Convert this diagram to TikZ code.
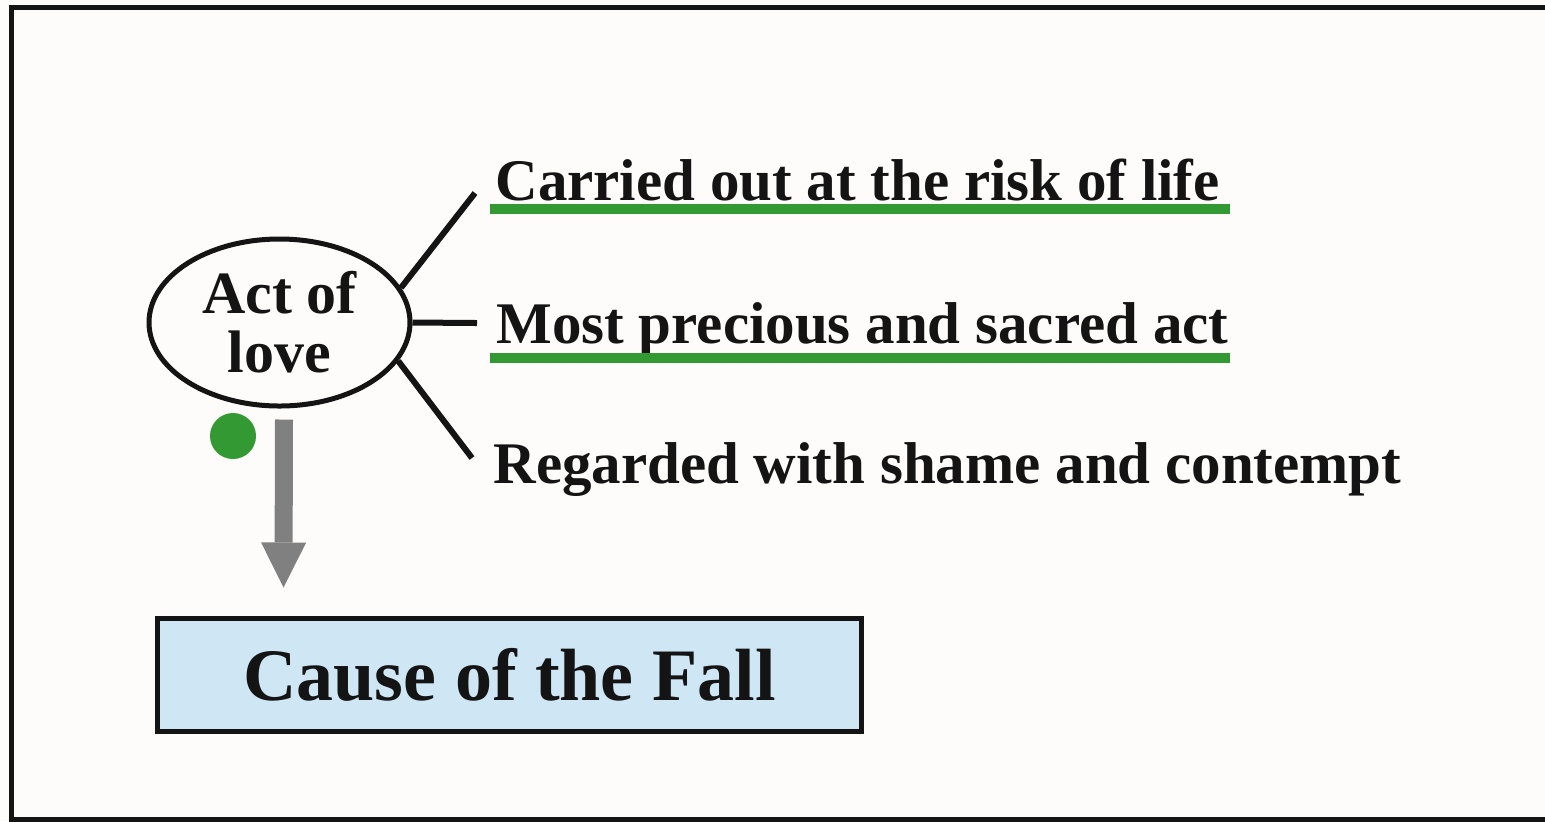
\documentclass[tikz,border=0pt]{standalone}
\usepackage{fontspec}
\setmainfont{Liberation Serif}
\usepackage{tikz}
\usetikzlibrary{arrows.meta,shapes}

\definecolor{leafgreen}{RGB}{51,153,51}
\definecolor{boxblue}{RGB}{207,230,245}
\definecolor{arrowgray}{RGB}{128,128,128}
\definecolor{inkblack}{RGB}{20,20,20}
\definecolor{paper}{RGB}{253,252,251}

\begin{document}
\begin{tikzpicture}[x=0.5pt,y=-0.5pt,
		love node/.style={ellipse,draw=inkblack,line width=2.5pt,minimum width=130.5pt,minimum height=83.5pt,inner sep=0pt,align=center,text=inkblack,font=\fontsize{30}{29.5}\selectfont\bfseries},
		item node/.style={anchor=base west,inner sep=0pt,text=inkblack,font=\fontsize{29.5}{35}\selectfont\bfseries},
		fall node/.style={rectangle,draw=inkblack,fill=boxblue,line width=2.5pt,minimum width=352pt,minimum height=56.5pt,text=inkblack,font=\fontsize{37}{44}\selectfont\bfseries},
		branch/.style={draw=inkblack,line width=3pt},
		mark line/.style={draw=leafgreen,line width=5pt}]
		
		\fill[paper] (0,0) rectangle (1545,821);
		\useasboundingbox (0,0) rectangle (1545,821);
		\draw[inkblack,line width=2.5pt] (1560,7.5) -- (11.5,7.5) -- (11.5,819.5) -- (1560,819.5);
		
		\node[love node](act) at (279.5,322.5){Act of\\love};
		\node[item node](risk) at (495,200){Carried out at the risk of life};
		\node[item node](sacred) at (496,343){Most precious and sacred act};
		\node[item node](shame) at (493,483){Regarded with shame and contempt};
		\node[fall node](fall) at (509.5,674.5){Cause of the Fall};
		\node[circle,fill=leafgreen,minimum size=23pt,inner sep=0pt](dot) at (233,436){};
		
		\coordinate (riskend) at ([shift={(-20,-7)}]risk.base west);
		\coordinate (sacredend) at ([shift={(-19,-20)}]sacred.base west);
		\coordinate (shameend) at ([shift={(-21,-25)}]shame.base west);
		
		\path[branch]
		(act.16) edge (riskend)
		(act.east) edge (sacredend)
		(act.-18) edge (shameend);
		
		% underlines
		\draw[mark line] (490,209) -- (1230,209);
		\draw[mark line] (490,357.5) -- (1230,357.5);
		
		\draw[arrowgray,line width=9pt,-{Triangle[width=22.5pt,length=22.5pt,line width=0pt]}] ([shift={(4.5,11)}]act.south) -- ([shift={(128.5,-28)}]fall.north west);
		
	\end{tikzpicture}
\end{document}
